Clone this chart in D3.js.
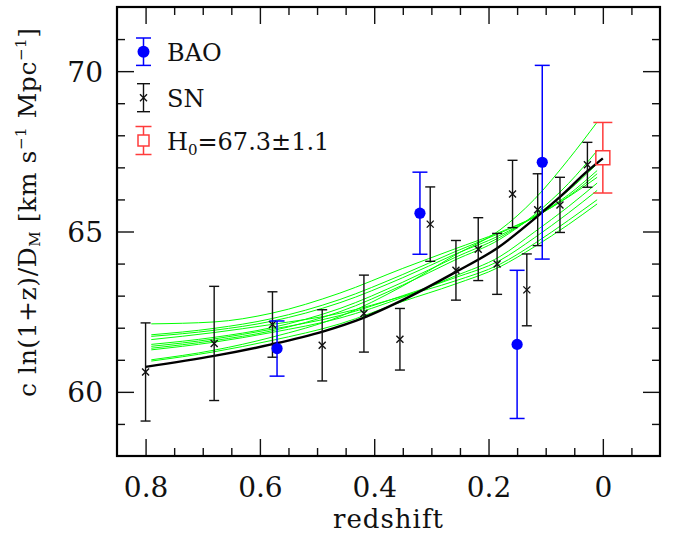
<!DOCTYPE html>
<html><head><meta charset="utf-8">
<script src="https://cdn.jsdelivr.net/npm/d3@7"></script>
<style>
body{margin:0;background:#fff;}
svg{display:block;}
text{font-family:"DejaVu Serif",serif;fill:#111;}
</style>
</head><body>
<svg id="chart" width="677" height="536"></svg>
<script>
// ---- tick labels ----
const xTickValues = [0.8, 0.6, 0.4, 0.2, 0];
const xTickLabels = ["0.8", "0.6", "0.4", "0.2", "0"];
const xMinorTicks = [0.75, 0.7, 0.65, 0.55, 0.5, 0.45, 0.35, 0.3, 0.25, 0.15, 0.1, 0.05, -0.05];
const yTickValues = [60, 65, 70];
const yTickLabels = ["60", "65", "70"];
const yMinorTicks = [59, 61, 62, 63, 64, 66, 67, 68, 69, 71];

// ---- BAO ----
const baoZ = [0.57, 0.32, 0.15, 0.106];
const baoV = [61.35, 65.57, 61.48, 67.16];
const baoErr = [0.86, 1.28, 2.31, 3.02];

// ---- SN ----
const snZ = [0.80, 0.68, 0.578, 0.491, 0.418, 0.355, 0.302, 0.257, 0.218, 0.185, 0.158, 0.133, 0.114, 0.075, 0.027];
const snV = [60.62, 61.51, 62.10, 61.45, 62.44, 61.64, 65.23, 63.79, 64.45, 63.99, 66.17, 63.18, 65.68, 65.83, 67.08];
const snErr = [1.53, 1.78, 1.02, 1.11, 1.20, 0.96, 1.16, 0.93, 0.98, 0.95, 1.05, 1.12, 1.12, 0.86, 0.70];

// ---- H0 ----
const h0Z = [0];
const h0V = [67.3];
const h0Err = [1.1];

// ---- best-fit model (black) ----
const modelZ = [0.8, 0.68, 0.58, 0.49, 0.42, 0.355, 0.257, 0.185, 0.114, 0.075, 0.027, 0];
const modelV = [60.78, 61.12, 61.48, 61.88, 62.30, 62.82, 63.74, 64.48, 65.48, 66.08, 66.88, 67.28];

// ---- sample models (green) ----
const greenZ = [0.79, 0.68, 0.58, 0.46, 0.35, 0.26, 0.18, 0.12, 0.06, 0.01];
const green1 = [62.12, 62.18, 62.45, 63.08, 63.85, 64.45, 64.98, 65.45, 66.08, 66.69];
const green2 = [61.78, 61.98, 62.28, 62.88, 63.66, 64.36, 64.95, 65.45, 66.10, 66.80];
const green3 = [61.73, 61.92, 62.20, 62.78, 63.56, 64.28, 64.88, 65.45, 66.15, 66.90];
const green4 = [61.48, 61.70, 62.00, 62.60, 63.42, 64.18, 64.82, 65.48, 66.28, 67.11];
const green5 = [61.36, 61.60, 61.90, 62.50, 63.33, 64.10, 64.76, 65.52, 66.50, 67.52];
const green6 = [61.00, 61.30, 61.70, 62.35, 63.30, 64.25, 65.05, 66.00, 67.25, 68.41];
const green7 = [61.31, 61.55, 61.85, 62.30, 62.95, 63.60, 64.22, 64.98, 65.78, 66.51];
const green8 = [61.42, 61.65, 61.95, 62.38, 63.00, 63.55, 64.10, 64.80, 65.58, 66.28];
const green9 = [61.63, 61.85, 62.10, 62.45, 62.98, 63.45, 63.98, 64.62, 65.35, 65.99];
const green10 = [60.96, 61.25, 61.60, 62.12, 62.82, 63.35, 63.90, 64.52, 65.22, 65.86];
const greenSeries = [green1, green2, green3, green4, green5, green6, green7, green8, green9, green10];

// ---- legend ----
const legendKeys = ["bao", "sn", "h0"];
const legendMain = ["BAO", "SN", "H"];
const legendSub = ["", "", "0"];
const legendTail = ["", "", "=67.3\u00b11.1"];

// ---- axis titles ----
const xTitle = "redshift";

const svg = d3.select("#chart");
const x = d3.scaleLinear().domain([0.85, -0.1]).range([117, 660]);
const y = d3.scaleLinear().domain([58, 72]).range([456, 7]);

const BLUE = "#0000ff", RED = "#ff3b3b", GREEN = "#00ff00", BLACK = "#000";
const FONT = "DejaVu Serif";

// green curves
const line = d3.line().x(d => x(d[0])).y(d => y(d[1])).curve(d3.curveMonotoneX);
svg.append("g").selectAll("path").data(greenSeries).join("path")
  .attr("d", s => line(greenZ.map((z, i) => [z, s[i]])))
  .attr("fill", "none").attr("stroke", GREEN).attr("stroke-width", 1);

// black curve
svg.append("path").attr("d", line(modelZ.map((z, i) => [z, modelV[i]])))
  .attr("fill", "none").attr("stroke", BLACK).attr("stroke-width", 2.4);

// error bar helper
function errBar(g, cx, v, e, cap, color, sw, gapHalf) {
  const yt = y(v + e), yb = y(v - e), yc = y(v);
  if (gapHalf) {
    g.append("line").attr("x1", cx).attr("x2", cx).attr("y1", yt).attr("y2", yc - gapHalf).attr("stroke", color).attr("stroke-width", sw);
    g.append("line").attr("x1", cx).attr("x2", cx).attr("y1", yc + gapHalf).attr("y2", yb).attr("stroke", color).attr("stroke-width", sw);
  } else {
    g.append("line").attr("x1", cx).attr("x2", cx).attr("y1", yt).attr("y2", yb).attr("stroke", color).attr("stroke-width", sw);
  }
  g.append("line").attr("x1", cx - cap / 2).attr("x2", cx + cap / 2).attr("y1", yt).attr("y2", yt).attr("stroke", color).attr("stroke-width", sw);
  g.append("line").attr("x1", cx - cap / 2).attr("x2", cx + cap / 2).attr("y1", yb).attr("y2", yb).attr("stroke", color).attr("stroke-width", sw);
}

// SN
const gSN = svg.append("g");
snZ.forEach((z, i) => {
  const cx = x(z), cy = y(snV[i]);
  errBar(gSN, cx, snV[i], snErr[i], 10, "#111", 1.4, 0);
  gSN.append("path").attr("d", `M${cx-3.5},${cy-3.5}L${cx+3.5},${cy+3.5}M${cx-3.5},${cy+3.5}L${cx+3.5},${cy-3.5}`)
    .attr("stroke", "#111").attr("stroke-width", 1.4);
});

// BAO
const gB = svg.append("g");
baoZ.forEach((z, i) => {
  errBar(gB, x(z), baoV[i], baoErr[i], 15, BLUE, 1.5, 0);
  gB.append("circle").attr("cx", x(z)).attr("cy", y(baoV[i])).attr("r", 5.6).attr("fill", BLUE);
});

// H0
const gH = svg.append("g");
h0Z.forEach((z, i) => {
  errBar(gH, x(z), h0V[i], h0Err[i], 19, RED, 1.5, 7);
  gH.append("rect").attr("x", x(z) - 7).attr("y", y(h0V[i]) - 7).attr("width", 14).attr("height", 14)
    .attr("fill", "none").attr("stroke", RED).attr("stroke-width", 1.5);
});

// axes (ticks inward on all 4 sides)
function styleAxis(g) { g.select(".domain").remove(); g.selectAll("line").attr("stroke", "#111").attr("stroke-width", 1.4); }
const axB = svg.append("g").attr("transform", "translate(0,456)")
  .call(d3.axisBottom(x).tickValues(xTickValues).tickFormat((d, i) => xTickLabels[i]).tickSizeInner(-17).tickSizeOuter(0).tickPadding(0));
styleAxis(axB);
axB.selectAll("text").attr("y", 41).attr("dy", null).attr("font-size", 28).attr("font-family", FONT).attr("fill", "#111");
svg.append("g").attr("transform", "translate(0,456)").call(d3.axisBottom(x).tickValues(xMinorTicks).tickFormat("").tickSizeInner(-8).tickSizeOuter(0)).call(styleAxis);
svg.append("g").attr("transform", "translate(0,7)").call(d3.axisTop(x).tickValues(xTickValues).tickFormat("").tickSizeInner(-17).tickSizeOuter(0)).call(styleAxis);
svg.append("g").attr("transform", "translate(0,7)").call(d3.axisTop(x).tickValues(xMinorTicks).tickFormat("").tickSizeInner(-8).tickSizeOuter(0)).call(styleAxis);

const axL = svg.append("g").attr("transform", "translate(117,0)")
  .call(d3.axisLeft(y).tickValues(yTickValues).tickFormat((d, i) => yTickLabels[i]).tickSizeInner(-17).tickSizeOuter(0).tickPadding(0));
styleAxis(axL);
axL.selectAll("text").attr("x", -14).attr("dy", "0.36em").attr("font-size", 28).attr("font-family", FONT).attr("fill", "#111");
svg.append("g").attr("transform", "translate(117,0)").call(d3.axisLeft(y).tickValues(yMinorTicks).tickFormat("").tickSizeInner(-8).tickSizeOuter(0)).call(styleAxis);
svg.append("g").attr("transform", "translate(660,0)").call(d3.axisRight(y).tickValues(yTickValues).tickFormat("").tickSizeInner(-17).tickSizeOuter(0)).call(styleAxis);
svg.append("g").attr("transform", "translate(660,0)").call(d3.axisRight(y).tickValues(yMinorTicks).tickFormat("").tickSizeInner(-8).tickSizeOuter(0)).call(styleAxis);

// frame
svg.append("rect").attr("x", x(0.85)).attr("y", y(72)).attr("width", x(-0.1) - x(0.85)).attr("height", y(58) - y(72))
  .attr("fill", "none").attr("stroke", "#000").attr("stroke-width", 2.2);

// x title
svg.append("text").attr("x", 388).attr("y", 528).attr("text-anchor", "middle").attr("font-size", 26)
  .attr("textLength", 110).attr("lengthAdjust", "spacing").text(xTitle);

// y title
const yt = svg.append("text").attr("transform", "translate(36,212.5) rotate(-90)").attr("text-anchor", "middle")
  .attr("font-size", 25).attr("textLength", 369).attr("lengthAdjust", "spacing");
yt.append("tspan").text("c ln(1+z)/D");
yt.append("tspan").attr("font-size", 15).attr("baseline-shift", "-4").text("M");
yt.append("tspan").text(" [km s");
yt.append("tspan").attr("font-size", 15).attr("baseline-shift", "10").text("\u22121");
yt.append("tspan").text(" Mpc");
yt.append("tspan").attr("font-size", 15).attr("baseline-shift", "10").text("\u22121");
yt.append("tspan").text("]");

// legend
const lgX = 143.5, lgY = [51.7, 97.7, 140.5];
const gL = svg.append("g");
// BAO symbol
gL.append("line").attr("x1", lgX).attr("x2", lgX).attr("y1", lgY[0] - 13.7).attr("y2", lgY[0] + 13.7).attr("stroke", BLUE).attr("stroke-width", 1.5);
gL.append("line").attr("x1", lgX - 7.5).attr("x2", lgX + 7.5).attr("y1", lgY[0] - 13.7).attr("y2", lgY[0] - 13.7).attr("stroke", BLUE).attr("stroke-width", 1.5);
gL.append("line").attr("x1", lgX - 7.5).attr("x2", lgX + 7.5).attr("y1", lgY[0] + 13.7).attr("y2", lgY[0] + 13.7).attr("stroke", BLUE).attr("stroke-width", 1.5);
gL.append("circle").attr("cx", lgX).attr("cy", lgY[0]).attr("r", 6).attr("fill", BLUE);
// SN symbol
gL.append("line").attr("x1", lgX).attr("x2", lgX).attr("y1", lgY[1] - 14).attr("y2", lgY[1] + 14).attr("stroke", "#111").attr("stroke-width", 1.4);
gL.append("line").attr("x1", lgX - 6.5).attr("x2", lgX + 6.5).attr("y1", lgY[1] - 14).attr("y2", lgY[1] - 14).attr("stroke", "#111").attr("stroke-width", 1.4);
gL.append("line").attr("x1", lgX - 6.5).attr("x2", lgX + 6.5).attr("y1", lgY[1] + 14).attr("y2", lgY[1] + 14).attr("stroke", "#111").attr("stroke-width", 1.4);
gL.append("path").attr("d", `M${lgX-3.5},${lgY[1]-3.5}L${lgX+3.5},${lgY[1]+3.5}M${lgX-3.5},${lgY[1]+3.5}L${lgX+3.5},${lgY[1]-3.5}`).attr("stroke", "#111").attr("stroke-width", 1.4);
// H0 symbol
gL.append("line").attr("x1", lgX).attr("x2", lgX).attr("y1", lgY[2] - 14).attr("y2", lgY[2] - 5.5).attr("stroke", RED).attr("stroke-width", 1.5);
gL.append("line").attr("x1", lgX).attr("x2", lgX).attr("y1", lgY[2] + 5.5).attr("y2", lgY[2] + 14).attr("stroke", RED).attr("stroke-width", 1.5);
gL.append("line").attr("x1", lgX - 8).attr("x2", lgX + 8).attr("y1", lgY[2] - 14).attr("y2", lgY[2] - 14).attr("stroke", RED).attr("stroke-width", 1.5);
gL.append("line").attr("x1", lgX - 8).attr("x2", lgX + 8).attr("y1", lgY[2] + 14).attr("y2", lgY[2] + 14).attr("stroke", RED).attr("stroke-width", 1.5);
gL.append("rect").attr("x", lgX - 5.5).attr("y", lgY[2] - 5.5).attr("width", 11).attr("height", 11).attr("fill", "none").attr("stroke", RED).attr("stroke-width", 1.5);
// legend labels
legendKeys.forEach((k, i) => {
  const t = gL.append("text").attr("x", 167).attr("y", lgY[i] + 9.5).attr("font-size", 24);
  t.append("tspan").text(legendMain[i]);
  if (legendSub[i]) t.append("tspan").attr("font-size", 15).attr("baseline-shift", "-5").text(legendSub[i]);
  if (legendTail[i]) t.append("tspan").text(legendTail[i]);
});
</script>
</body></html>
